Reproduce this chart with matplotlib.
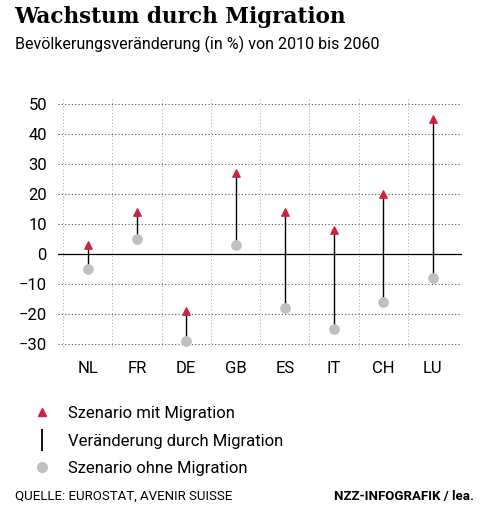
import matplotlib
matplotlib.use("Agg")
import matplotlib.pyplot as plt
from matplotlib.lines import Line2D

countries = ["NL", "FR", "DE", "GB", "ES", "IT", "CH", "LU"]
with_migration = [3, 14, -19, 27, 14, 8, 20, 45]
without_migration = [-5, 5, -29, 3, -18, -25, -16, -8]
y_ticks = [50, 40, 30, 20, 10, 0, -10, -20, -30]

red = "#d0223e"
grey = "#c0c0c0"

plt.rcParams["font.family"] = ["Liberation Sans Narrow", "Roboto", "DejaVu Sans"]
fig = plt.figure(figsize=(4.84, 5.18), dpi=100)
ax = fig.add_axes([0.12, 0.325, 0.835, 0.485])

x = range(len(countries))
for i in x:
    ax.plot([i, i], [without_migration[i], with_migration[i]], color="black", lw=1, zorder=2)
ax.scatter(x, without_migration, s=45, color=grey, zorder=3)
ax.scatter(x, with_migration, s=28, marker="^", color=red, zorder=4)

ax.axhline(0, color="black", lw=0.9, zorder=1)
ax.set_ylim(-32, 52)
ax.set_xlim(-0.6, 7.6)
ax.set_yticks(y_ticks)
ax.set_xticks(list(x))
ax.set_xticklabels(countries)
for y in y_ticks:
    if y != 0:
        ax.axhline(y, color="#555555", lw=0.8, ls=(0, (1, 2)), zorder=0)
for i in x:
    ax.axvline(i - 0.5, color="#888888", lw=0.6, ls=(0, (1, 3)), zorder=0)
for s in ax.spines.values():
    s.set_visible(False)
ax.tick_params(length=0, labelsize=12, pad=8)

fig.text(0.03, 0.955, "Wachstum durch Migration", family="DejaVu Serif",
         weight="bold", fontsize=15.5)
fig.text(0.03, 0.905, "Bevölkerungsveränderung (in %) von 2010 bis 2060", fontsize=11.5)

legend_items = [
    (Line2D([], [], marker="^", color=red, ls="none", markersize=6), "Szenario mit Migration"),
    (Line2D([], [], marker="|", color="black", ls="none", markersize=16, markeredgewidth=1.3),
     "Veränderung durch Migration"),
    (Line2D([], [], marker="o", color=grey, ls="none", markersize=7), "Szenario ohne Migration"),
]
fig.legend([h for h, _ in legend_items], [l for _, l in legend_items],
           loc="upper left", bbox_to_anchor=(0.03, 0.245), frameon=False,
           fontsize=12, handlelength=1.5, labelspacing=0.75)

fig.text(0.03, 0.035, "QUELLE: EUROSTAT, AVENIR SUISSE", fontsize=9.5)
fig.text(0.98, 0.035, "NZZ-INFOGRAFIK / lea.", fontsize=9.5, weight="bold", ha="right")

fig.savefig("out.png", dpi=100)
